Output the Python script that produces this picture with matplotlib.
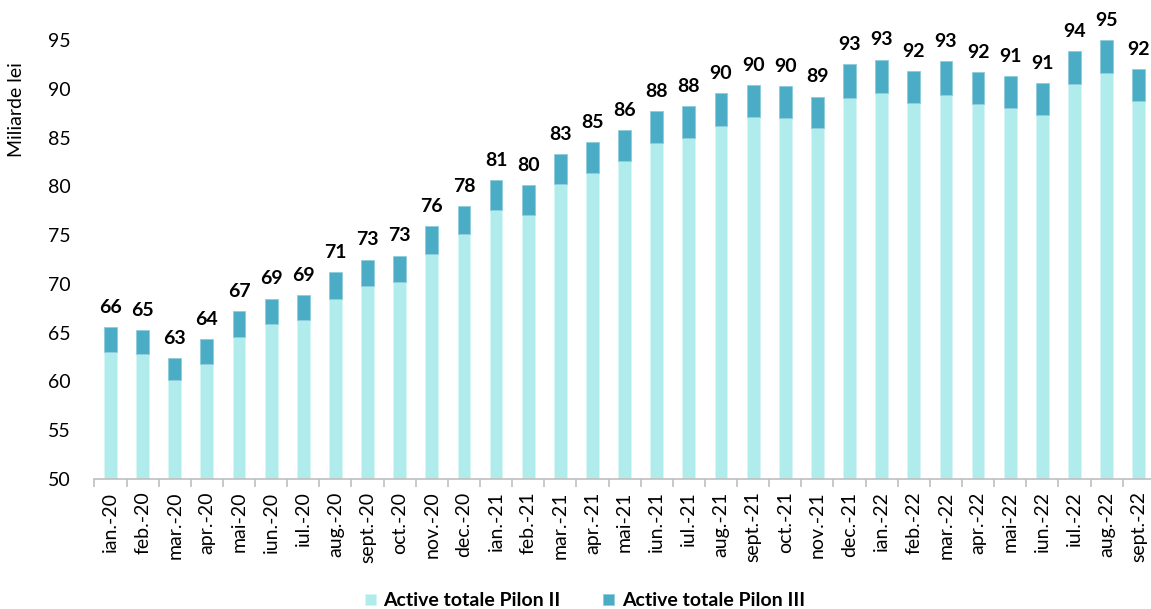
import matplotlib
matplotlib.use('Agg')
import matplotlib.pyplot as plt
import numpy as np

plt.rcParams['font.family'] = ['Lato', 'DejaVu Sans']

months = ['ian.-20', 'feb.-20', 'mar.-20', 'apr.-20', 'mai-20', 'iun.-20', 'iul.-20', 'aug.-20',
          'sept.-20', 'oct.-20', 'nov.-20', 'dec.-20', 'ian.-21', 'feb.-21', 'mar.-21', 'apr.-21',
          'mai-21', 'iun.-21', 'iul.-21', 'aug.-21', 'sept.-21', 'oct.-21', 'nov.-21', 'dec.-21',
          'ian.-22', 'feb.-22', 'mar.-22', 'apr.-22', 'mai-22', 'iun.-22', 'iul.-22', 'aug.-22',
          'sept.-22']

pilon2 = [63.0, 62.8, 60.1, 61.8, 64.6, 65.9, 66.3, 68.5, 69.8, 70.2, 73.1, 75.1, 77.6, 77.1,
          80.2, 81.4, 82.6, 84.4, 85.0, 86.2, 87.1, 87.0, 86.0, 89.1, 89.6, 88.5, 89.4, 88.4,
          88.0, 87.3, 90.5, 91.6, 88.7]
pilon3 = [2.6, 2.5, 2.3, 2.5, 2.6, 2.6, 2.6, 2.7, 2.7, 2.7, 2.8, 2.9, 3.0, 3.0, 3.1, 3.1,
          3.2, 3.3, 3.2, 3.4, 3.3, 3.3, 3.2, 3.4, 3.4, 3.3, 3.4, 3.3, 3.3, 3.3, 3.4, 3.4, 3.3]
total_labels = ['66', '65', '63', '64', '67', '69', '69', '71', '73', '73', '76', '78', '81', '80',
                '83', '85', '86', '88', '88', '90', '90', '90', '89', '93', '93', '92', '93', '92',
                '91', '91', '94', '95', '92']

c_p2 = '#B1ECEC'
c_p3 = '#4BACC6'

fig = plt.figure(figsize=(11.51, 6.09), dpi=100)
ax = fig.add_axes([94.4 / 1151, 1 - 479 / 609, (1154.8 - 94.4) / 1151, (479 - 40) / 609])

x = np.arange(len(months))
ax.bar(x, pilon2, width=0.4, bottom=0, color=c_p2, edgecolor='#D8F6F6', linewidth=0.6,
       label='Active totale Pilon II')
ax.bar(x, pilon3, width=0.4, bottom=pilon2, color=c_p3, edgecolor='#8FCCDC', linewidth=0.6,
       label='Active totale Pilon III')

totals = np.array(pilon2) + np.array(pilon3)
for xi, t, lab in zip(x, totals, total_labels):
    ax.annotate(lab, (xi, t), xytext=(0, 8), textcoords='offset points',
                ha='center', va='bottom', fontsize=14, fontweight='bold', color='black')

ax.set_ylim(50, 95)
ax.set_yticks(range(50, 96, 5))
ax.set_xlim(-0.5, len(months) - 0.5)
ax.set_xticks(x)
ax.set_xticklabels(months, rotation=90, fontsize=14)
ax.set_xticks(np.arange(-0.5, len(months), 1), minor=True)
ax.tick_params(axis='x', which='major', length=0, pad=9)
ax.tick_params(axis='x', which='minor', length=6, color='#BFBFBF', width=1.2)
ax.tick_params(axis='y', length=0, labelsize=14, pad=17)

for s in ['top', 'right', 'left']:
    ax.spines[s].set_visible(False)
ax.spines['bottom'].set_color('#BFBFBF')
ax.spines['bottom'].set_linewidth(1.2)

fig.text(17 / 1151, 1 - 110 / 609, 'Miliarde lei', rotation=90, ha='center', va='center',
         fontsize=14)

leg = fig.legend(loc='center', bbox_to_anchor=(585 / 1151, 1 - 601 / 609), ncol=2, frameon=False,
                 prop={'size': 14, 'weight': 'bold'}, handlelength=0.55, handleheight=0.55,
                 handletextpad=0.4, columnspacing=2.2)

plt.savefig('out.png', dpi=100)
